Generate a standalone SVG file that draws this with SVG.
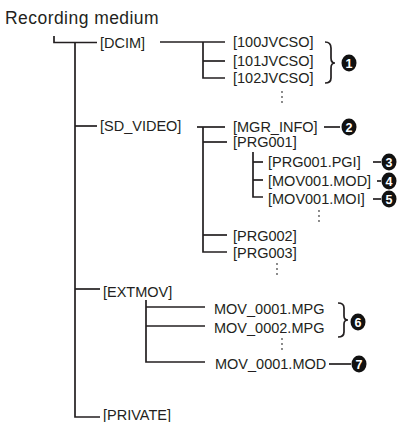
<svg xmlns="http://www.w3.org/2000/svg" width="404" height="422" viewBox="0 0 404 422">
<style>
text{font-family:"Liberation Sans",Arial,sans-serif;fill:#231f20}
.t{font-size:14.5px}
.title{font-size:17.5px;letter-spacing:0.45px}
.c line,.c path,.c polyline{stroke:#231f20;stroke-width:1.7;fill:none}
.b{fill:#111}
.n{fill:#fff;font-size:12.5px;font-weight:bold;text-anchor:middle}
.d{fill:#555}
</style>
<rect width="404" height="422" fill="#fff"/>
<text class="title" x="5" y="24">Recording medium</text>
<g class="c" id="connectors">
<polyline points="54,36 54,42.5 97,42.5"/>
<polyline points="75,42.5 75,417 100,417"/>
<line x1="75" y1="126" x2="97" y2="126"/>
<line x1="75" y1="289" x2="100" y2="289"/>
<line x1="160" y1="42" x2="225" y2="42"/>
<polyline points="203,42 203,78 225,78"/>
<line x1="203" y1="61" x2="225" y2="61"/>
<line x1="197" y1="127" x2="225" y2="127"/>
<polyline points="203,127 203,252 227,252"/>
<line x1="203" y1="142" x2="227" y2="142"/>
<line x1="203" y1="235" x2="227" y2="235"/>
<polyline points="253,152 253,197 263,197"/>
<line x1="253" y1="162" x2="263" y2="162"/>
<line x1="253" y1="180" x2="263" y2="180"/>
<polyline points="146,300 146,362 205,362"/>
<line x1="146" y1="307" x2="205" y2="307"/>
<line x1="146" y1="326" x2="205" y2="326"/>
<line x1="324" y1="127" x2="340" y2="127"/>
<line x1="373" y1="162" x2="381" y2="162"/>
<line x1="377" y1="181" x2="381" y2="181"/>
<line x1="373" y1="199" x2="381" y2="199"/>
<line x1="329" y1="364" x2="351" y2="364"/>
<path d="M325,42 Q331,42 331,48 L331,58 Q331,63 335,63 Q331,63 331,68 L331,78 Q331,83 325,83" stroke-width="2.2"/>
<path d="M338,303 Q344,303 344,308 L344,316 Q344,320 348,320 Q344,320 344,324 L344,332 Q344,337 338,337" stroke-width="2.2"/>
</g>
<g id="root-children">
<text class="t" x="100" y="47.5">[DCIM]</text>
<text class="t" x="100" y="131">[SD_VIDEO]</text>
<text class="t" x="103" y="297">[EXTMOV]</text>
<text class="t" x="103" y="420">[PRIVATE]</text>
</g>
<g id="dcim">
<text class="t" x="233" y="47">[100JVCSO]</text>
<text class="t" x="233" y="66">[101JVCSO]</text>
<text class="t" x="233" y="83">[102JVCSO]</text>
<circle class="d" cx="282" cy="92" r="0.9"/><circle class="d" cx="282" cy="97" r="0.9"/><circle class="d" cx="282" cy="102" r="0.9"/>
</g>
<g id="sdvideo">
<text class="t" x="233" y="132">[MGR_INFO]</text>
<text class="t" x="233" y="147">[PRG001]</text>
<text class="t" x="268" y="167">[PRG001.PGI]</text>
<text class="t" x="268" y="186">[MOV001.MOD]</text>
<text class="t" x="268" y="204">[MOV001.MOI]</text>
<circle class="d" cx="319" cy="211" r="0.9"/><circle class="d" cx="319" cy="216" r="0.9"/><circle class="d" cx="319" cy="221" r="0.9"/>
<text class="t" x="233" y="241">[PRG002]</text>
<text class="t" x="233" y="258">[PRG003]</text>
<circle class="d" cx="277" cy="264" r="0.9"/><circle class="d" cx="277" cy="269" r="0.9"/><circle class="d" cx="277" cy="274" r="0.9"/>
</g>
<g id="extmov">
<text class="t" x="214" y="314">MOV_0001.MPG</text>
<text class="t" x="214" y="333">MOV_0002.MPG</text>
<circle class="d" cx="282" cy="339" r="0.9"/><circle class="d" cx="282" cy="344" r="0.9"/><circle class="d" cx="282" cy="349" r="0.9"/>
<text class="t" x="215" y="369">MOV_0001.MOD</text>
</g>
<g id="markers">
<ellipse class="b" cx="349" cy="63" rx="7.5" ry="8.5"/><text class="n" x="349" y="67.5">1</text>
<ellipse class="b" cx="349" cy="127" rx="7.5" ry="8.5"/><text class="n" x="349" y="131.5">2</text>
<ellipse class="b" cx="389" cy="162" rx="7.5" ry="8.5"/><text class="n" x="389" y="166.5">3</text>
<ellipse class="b" cx="389" cy="181" rx="7.5" ry="8.5"/><text class="n" x="389" y="185.5">4</text>
<ellipse class="b" cx="389" cy="199" rx="7.5" ry="8.5"/><text class="n" x="389" y="203.5">5</text>
<ellipse class="b" cx="358" cy="322" rx="7.5" ry="8.5"/><text class="n" x="358" y="326.5">6</text>
<ellipse class="b" cx="359" cy="364" rx="7.5" ry="8.5"/><text class="n" x="359" y="368.5">7</text>
</g>
</svg>
